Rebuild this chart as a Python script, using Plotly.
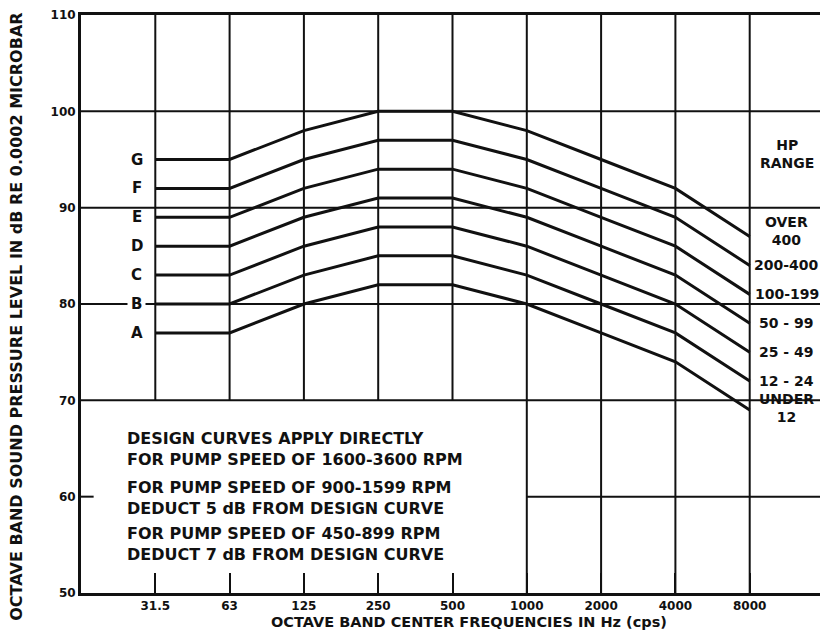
import plotly.graph_objects as go

# ---- data ----
freq_labels = ["31.5", "63", "125", "250", "500", "1000", "2000", "4000", "8000"]
curve_names = ["A", "B", "C", "D", "E", "F", "G"]
hp_ranges = ["UNDER<br>12", "12 - 24", "25 - 49", "50 - 99", "100-199", "200-400", "OVER<br>400"]
curve_A = [77, 77, 80, 82, 82, 80, 77, 74, 69]
curve_B = [80, 80, 83, 85, 85, 83, 80, 77, 72]
curve_C = [83, 83, 86, 88, 88, 86, 83, 80, 75]
curve_D = [86, 86, 89, 91, 91, 89, 86, 83, 78]
curve_E = [89, 89, 92, 94, 94, 92, 89, 86, 81]
curve_F = [92, 92, 95, 97, 97, 95, 92, 89, 84]
curve_G = [95, 95, 98, 100, 100, 98, 95, 92, 87]
y_ticks = [50, 60, 70, 80, 90, 100, 110]
notes = [
    "DESIGN CURVES APPLY DIRECTLY<br>FOR PUMP SPEED OF 1600-3600 RPM",
    "FOR PUMP SPEED OF 900-1599 RPM<br>DEDUCT 5 dB FROM DESIGN CURVE",
    "FOR PUMP SPEED OF 450-899 RPM<br>DEDUCT 7 dB FROM DESIGN CURVE",
]

curves = [curve_A, curve_B, curve_C, curve_D, curve_E, curve_F, curve_G]
xs = list(range(len(freq_labels)))

FONT = "DejaVu Sans"
BLACK = "#111111"

fig = go.Figure()
for name, vals in zip(curve_names, curves):
    fig.add_trace(go.Scatter(x=xs, y=vals, mode="lines", name=name,
                             line=dict(color=BLACK, width=3), showlegend=False,
                             hoverinfo="x+y"))

shapes = []
for yv in [70, 80, 90, 100]:
    shapes.append(dict(type="line", xref="x", yref="y", x0=-1, x1=9, y0=yv, y1=yv,
                       line=dict(color=BLACK, width=2), layer="below"))
shapes.append(dict(type="line", xref="x", yref="y", x0=5, x1=9, y0=60, y1=60,
                   line=dict(color=BLACK, width=2), layer="below"))
shapes.append(dict(type="line", xref="x", yref="y", x0=-1, x1=-0.83, y0=60, y1=60,
                   line=dict(color=BLACK, width=2), layer="below"))
for i in xs:
    y0 = 70 if i <= 4 else 50
    shapes.append(dict(type="line", xref="x", yref="y", x0=i, x1=i, y0=y0, y1=110,
                       line=dict(color=BLACK, width=2), layer="below"))

annotations = []
for name, vals in zip(curve_names, curves):
    annotations.append(dict(x=-0.25, y=vals[0], xref="x", yref="y", text=name,
                            showarrow=False, xanchor="center", yanchor="middle",
                            font=dict(family=FONT, size=15, color=BLACK, weight="bold"),
                            bgcolor="white" if name == "B" else None,
                            borderpad=3))
for label, vals in zip(hp_ranges, curves):
    off = 0.6 if label.startswith("OVER") else 0.2 if label.startswith("UNDER") else 0
    annotations.append(dict(x=8.5, y=vals[-1] + off, xref="x", yref="y", text=label,
                            showarrow=False, xanchor="center", yanchor="middle",
                            font=dict(family=FONT, size=14, color=BLACK, weight="bold")))
annotations.append(dict(x=8.5, y=95.6, xref="x", yref="y", text="HP<br>RANGE",
                        showarrow=False, xanchor="center", yanchor="middle",
                        font=dict(family=FONT, size=14, color=BLACK, weight="bold")))
for k, note in enumerate(notes):
    annotations.append(dict(x=-0.41, y=[65.0, 59.9, 55.1][k], xref="x", yref="y", text=note,
                            showarrow=False, xanchor="left", yanchor="middle", align="left",
                            font=dict(family=FONT, size=16, color=BLACK, weight="bold")))
annotations.append(dict(x=-0.086, y=0.478, xref="paper", yref="paper",
                        text="OCTAVE BAND SOUND PRESSURE LEVEL IN dB RE 0.0002 MICROBAR",
                        textangle=-90, showarrow=False, xanchor="center", yanchor="middle",
                        font=dict(family=FONT, size=16, color=BLACK, weight="bold")))
annotations.append(dict(x=0.522, y=-0.05, xref="paper", yref="paper",
                        text="OCTAVE BAND CENTER FREQUENCIES IN Hz (cps)",
                        showarrow=False, xanchor="center", yanchor="middle",
                        font=dict(family=FONT, size=14.5, color=BLACK, weight="bold")))

# the page body adds an 8px margin, so the figure is sized to fit inside the window
fig.update_layout(
    width=820, height=627,
    margin=dict(l=73, r=4, t=7, b=42, autoexpand=False),
    paper_bgcolor="white", plot_bgcolor="white",
    shapes=shapes, annotations=annotations,
    xaxis=dict(range=[-1, 9], tickvals=xs, ticktext=freq_labels,
               showgrid=False, zeroline=False, showline=True, mirror=True,
               linecolor=BLACK, linewidth=3, ticks="inside", ticklen=20,
               tickwidth=2, tickcolor=BLACK, automargin=False,
               tickfont=dict(family=FONT, size=12, color=BLACK, weight="bold")),
    yaxis=dict(range=[50, 110], tickvals=y_ticks,
               showgrid=False, zeroline=False, showline=True, mirror=True,
               linecolor=BLACK, linewidth=3, ticks="", automargin=False,
               ticklabeloverflow="allow",
               tickfont=dict(family=FONT, size=12, color=BLACK, weight="bold")),
)

fig.write_html("out.html")
